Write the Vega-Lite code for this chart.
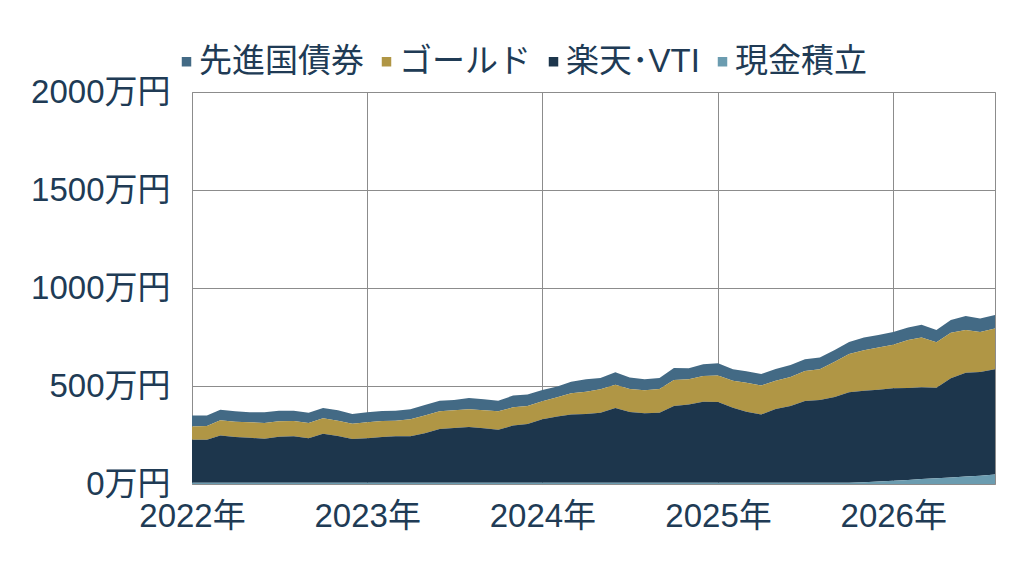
{
  "$schema": "https://vega.github.io/schema/vega-lite/v6.json",
  "width": 803,
  "height": 392,
  "autosize": {"type": "none"},
  "padding": {"left": 192, "top": 92, "right": 29, "bottom": 86},
  "background": "white",
  "config": {
    "font": "Liberation Sans, Noto Sans CJK JP",
    "view": {"stroke": "#8c8c8c", "strokeWidth": 1},
    "axis": {
      "labelFont": "Liberation Sans, Noto Sans CJK JP",
      "labelFontSize": 33,
      "labelColor": "#203b55",
      "gridColor": "#8c8c8c",
      "gridWidth": 1,
      "gridOpacity": 1,
      "ticks": false,
      "domain": false,
      "title": null
    },
    "legend": {
      "labelFont": "Liberation Sans, Noto Sans CJK JP",
      "labelFontSize": 33,
      "labelColor": "#203b55",
      "labelLimit": 400
    }
  },
  "data": {
    "values": [
      {"date": "2022-01-01", "cash": 6, "vti": 220, "gold": 68, "bond": 55},
      {"date": "2022-02-01", "cash": 6, "vti": 220, "gold": 70, "bond": 53},
      {"date": "2022-03-01", "cash": 6, "vti": 242, "gold": 77, "bond": 54},
      {"date": "2022-04-01", "cash": 6, "vti": 234, "gold": 78, "bond": 53},
      {"date": "2022-05-01", "cash": 6, "vti": 230, "gold": 79, "bond": 51},
      {"date": "2022-06-01", "cash": 6, "vti": 225, "gold": 80, "bond": 55},
      {"date": "2022-07-01", "cash": 6, "vti": 235, "gold": 79, "bond": 54},
      {"date": "2022-08-01", "cash": 6, "vti": 237, "gold": 78, "bond": 53},
      {"date": "2022-09-01", "cash": 6, "vti": 227, "gold": 78, "bond": 53},
      {"date": "2022-10-01", "cash": 6, "vti": 251, "gold": 78, "bond": 53},
      {"date": "2022-11-01", "cash": 6, "vti": 239, "gold": 78, "bond": 53},
      {"date": "2022-12-01", "cash": 6, "vti": 224, "gold": 78, "bond": 49},
      {"date": "2023-01-01", "cash": 6, "vti": 227, "gold": 82, "bond": 51},
      {"date": "2023-02-01", "cash": 6, "vti": 234, "gold": 81, "bond": 51},
      {"date": "2023-03-01", "cash": 6, "vti": 237, "gold": 80, "bond": 51},
      {"date": "2023-04-01", "cash": 6, "vti": 237, "gold": 87, "bond": 51},
      {"date": "2023-05-01", "cash": 6, "vti": 253, "gold": 90, "bond": 54},
      {"date": "2023-06-01", "cash": 6, "vti": 275, "gold": 90, "bond": 54},
      {"date": "2023-07-01", "cash": 6, "vti": 280, "gold": 90, "bond": 53},
      {"date": "2023-08-01", "cash": 6, "vti": 285, "gold": 90, "bond": 58},
      {"date": "2023-09-01", "cash": 6, "vti": 278, "gold": 92, "bond": 56},
      {"date": "2023-10-01", "cash": 6, "vti": 271, "gold": 94, "bond": 54},
      {"date": "2023-11-01", "cash": 6, "vti": 292, "gold": 93, "bond": 60},
      {"date": "2023-12-01", "cash": 6, "vti": 300, "gold": 92, "bond": 58},
      {"date": "2024-01-01", "cash": 6, "vti": 324, "gold": 92, "bond": 58},
      {"date": "2024-02-01", "cash": 6, "vti": 338, "gold": 98, "bond": 56},
      {"date": "2024-03-01", "cash": 6, "vti": 349, "gold": 108, "bond": 59},
      {"date": "2024-04-01", "cash": 6, "vti": 351, "gold": 114, "bond": 63},
      {"date": "2024-05-01", "cash": 6, "vti": 358, "gold": 119, "bond": 58},
      {"date": "2024-06-01", "cash": 6, "vti": 382, "gold": 119, "bond": 63},
      {"date": "2024-07-01", "cash": 6, "vti": 361, "gold": 118, "bond": 59},
      {"date": "2024-08-01", "cash": 6, "vti": 355, "gold": 117, "bond": 56},
      {"date": "2024-09-01", "cash": 6, "vti": 358, "gold": 121, "bond": 56},
      {"date": "2024-10-01", "cash": 6, "vti": 392, "gold": 133, "bond": 61},
      {"date": "2024-11-01", "cash": 6, "vti": 400, "gold": 128, "bond": 56},
      {"date": "2024-12-01", "cash": 6, "vti": 414, "gold": 131, "bond": 60},
      {"date": "2025-01-01", "cash": 6, "vti": 412, "gold": 136, "bond": 62},
      {"date": "2025-02-01", "cash": 6, "vti": 383, "gold": 138, "bond": 58},
      {"date": "2025-03-01", "cash": 6, "vti": 363, "gold": 148, "bond": 58},
      {"date": "2025-04-01", "cash": 6, "vti": 349, "gold": 148, "bond": 58},
      {"date": "2025-05-01", "cash": 6, "vti": 377, "gold": 144, "bond": 60},
      {"date": "2025-06-01", "cash": 6, "vti": 392, "gold": 148, "bond": 61},
      {"date": "2025-07-01", "cash": 6, "vti": 417, "gold": 154, "bond": 59},
      {"date": "2025-08-01", "cash": 6, "vti": 423, "gold": 156, "bond": 60},
      {"date": "2025-09-01", "cash": 6, "vti": 438, "gold": 180, "bond": 60},
      {"date": "2025-10-01", "cash": 6, "vti": 462, "gold": 195, "bond": 61},
      {"date": "2025-11-01", "cash": 9, "vti": 467, "gold": 206, "bond": 65},
      {"date": "2025-12-01", "cash": 13, "vti": 468, "gold": 215, "bond": 64},
      {"date": "2026-01-01", "cash": 17, "vti": 471, "gold": 223, "bond": 65},
      {"date": "2026-02-01", "cash": 21, "vti": 469, "gold": 245, "bond": 64},
      {"date": "2026-03-01", "cash": 25, "vti": 468, "gold": 254, "bond": 66},
      {"date": "2026-04-01", "cash": 29, "vti": 462, "gold": 232, "bond": 63},
      {"date": "2026-05-01", "cash": 33, "vti": 506, "gold": 233, "bond": 65},
      {"date": "2026-06-01", "cash": 38, "vti": 530, "gold": 218, "bond": 71},
      {"date": "2026-07-01", "cash": 42, "vti": 529, "gold": 205, "bond": 69},
      {"date": "2026-08-01", "cash": 48, "vti": 537, "gold": 208, "bond": 69}
    ]
  },
  "transform": [
    {"fold": ["bond", "gold", "vti", "cash"], "as": ["key", "value"]},
    {"calculate": "indexof(['cash', 'vti', 'gold', 'bond'], datum.key)", "as": "stackOrder"},
    {"calculate": "{'bond': '先進国債券', 'gold': 'ゴールド', 'vti': '楽天･VTI', 'cash': '現金積立'}[datum.key]", "as": "series"}
  ],
  "mark": {"type": "area", "interpolate": "linear"},
  "encoding": {
    "x": {
      "field": "date",
      "type": "temporal",
      "scale": {
        "type": "utc",
        "nice": false,
        "domain": ["2022-01-01", "2026-08-01"]
      },
      "axis": {
        "format": "%Y年",
        "tickCount": {"interval": "year", "step": 1},
        "labelPadding": 16,
        "labelAlign": "center",
        "labelFlush": false,
        "labelOverlap": false
      }
    },
    "y": {
      "field": "value",
      "type": "quantitative",
      "stack": "zero",
      "scale": {"domain": [0, 2000], "nice": false},
      "axis": {
        "values": [0, 500, 1000, 1500, 2000],
        "labelExpr": "datum.value + '万円'",
        "labelPadding": 22
      }
    },
    "color": {
      "field": "series",
      "type": "nominal",
      "scale": {
        "domain": ["先進国債券", "ゴールド", "楽天･VTI", "現金積立"],
        "range": ["#436a85", "#b09645", "#1d364c", "#6b9cb0"]
      },
      "legend": {
        "title": null,
        "orient": "none",
        "direction": "horizontal",
        "legendX": -22,
        "legendY": -47,
        "symbolType": "square",
        "symbolSize": 90,
        "symbolStrokeWidth": 0,
        "labelOffset": -4,
        "columnPadding": 6
      }
    },
    "order": {"field": "stackOrder", "type": "quantitative"}
  }
}
